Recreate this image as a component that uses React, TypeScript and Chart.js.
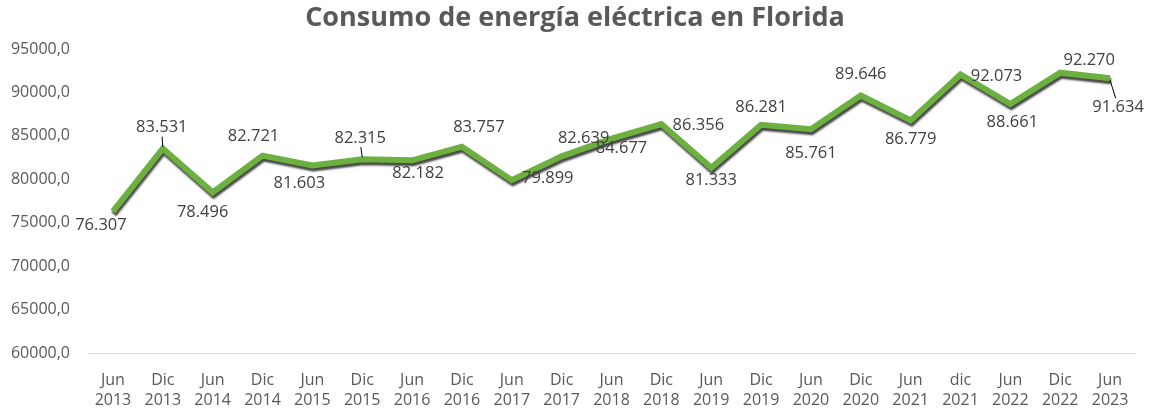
import React, { useEffect, useRef } from "react";
import { Chart, registerables } from "chart.js";

Chart.register(...registerables);

const title = "Consumo de energía eléctrica en Florida";
const months = ["Jun", "Dic", "Jun", "Dic", "Jun", "Dic", "Jun", "Dic", "Jun", "Dic", "Jun", "Dic", "Jun", "Dic", "Jun", "Dic", "Jun", "dic", "Jun", "Dic", "Jun"];
const years = ["2013", "2013", "2014", "2014", "2015", "2015", "2016", "2016", "2017", "2017", "2018", "2018", "2019", "2019", "2020", "2020", "2021", "2021", "2022", "2022", "2023"];
const consumo = [76307, 83531, 78496, 82721, 81603, 82315, 82182, 83757, 79899, 82639, 84677, 86356, 81333, 86281, 85761, 89646, 86779, 92073, 88661, 92270, 91634];
const yMin = 60000;
const yMax = 95000;
const yStep = 5000;

// label placement (style): offset of label centre from point, px
const labelDX = [-12, -1, -10, -9, -13, -2, 6, 17, 36, 22, 10, 37, 0, 0, 0, 0, 0, 36, 2, 29, 8];
const labelDY = [14, -21, 20, -19, 18, -21, 13, -19, -2, -18, 10, 1, 13, -17, 24, -21, 19, 2, 18, -12, 29];
const leader = [1, 5, 20];

const FONT = "'Open Sans', sans-serif";

function fmt(v: number) {
  return Math.floor(v / 1000) + "." + String(v % 1000).padStart(3, "0");
}

export default function App() {
  const ref = useRef<HTMLCanvasElement>(null);
  useEffect(() => {
    document.body.style.margin = "0";
    const labels = months.map((m, i) => [m, years[i]]);
    const shadowPlugin = {
      id: "shadow",
      beforeDatasetDraw(chart: any) {
        const ctx = chart.ctx;
        ctx.save();
        ctx.shadowColor = "rgba(40,40,40,0.85)";
        ctx.shadowOffsetX = 1;
        ctx.shadowOffsetY = 3;
        ctx.shadowBlur = 2;
      },
      afterDatasetDraw(chart: any) {
        chart.ctx.restore();
      },
    };
    const labelPlugin = {
      id: "labels",
      afterDatasetsDraw(chart: any) {
        const ctx = chart.ctx;
        const meta = chart.getDatasetMeta(0);
        ctx.save();
        ctx.font = "16.5px " + FONT;
        ctx.fillStyle = "#404040";
        ctx.textAlign = "center";
        ctx.textBaseline = "middle";
        meta.data.forEach((pt: any, i: number) => {
          const lx = pt.x + labelDX[i];
          const ly = pt.y + labelDY[i];
          if (leader.includes(i)) {
            ctx.strokeStyle = "#000";
            ctx.lineWidth = 1;
            ctx.beginPath();
            const sy = labelDY[i] < 0 ? ly + 9 : ly - 9;
            ctx.moveTo(lx - labelDX[i] * 0.3, sy);
            ctx.lineTo(pt.x, pt.y + (labelDY[i] < 0 ? -2 : 2));
            ctx.stroke();
          }
          ctx.fillText(fmt(consumo[i]), lx, ly);
        });
        ctx.restore();
      },
    };
    const titlePlugin = {
      id: "ttl",
      afterDraw(chart: any) {
        const ctx = chart.ctx;
        ctx.save();
        ctx.font = "bold 27px " + FONT;
        ctx.fillStyle = "#595959";
        ctx.textAlign = "center";
        ctx.textBaseline = "middle";
        ctx.fillText(title, 575, 18);
        ctx.restore();
      },
    };
    const chart = new Chart(ref.current!, {
      type: "line",
      data: {
        labels,
        datasets: [
          {
            data: consumo,
            borderColor: "#6CB13F",
            borderWidth: 6,
            borderJoinStyle: "miter",
            pointRadius: 0,
            tension: 0,
            fill: false,
          },
        ],
      },
      options: {
        animation: false,
        responsive: false,
        layout: { padding: { top: 49, right: 16, bottom: 0, left: 0 } },
        plugins: { legend: { display: false }, tooltip: { enabled: false }, title: { display: false } },
        scales: {
          x: {
            offset: true,
            grid: { display: false, drawTicks: false },
            border: { color: "#D9D9D9", width: 1 },
            afterFit(scale: any) {
              scale.height = 59;
            },
            ticks: { color: "#595959", font: { family: FONT, size: 16, lineHeight: 1.25 }, padding: 17, maxRotation: 0, autoSkip: false },
          },
          y: {
            min: yMin,
            max: yMax,
            grid: { display: false, drawTicks: false },
            border: { display: false },
            afterFit(scale: any) {
              scale.width = 88;
            },
            ticks: {
              stepSize: yStep,
              color: "#595959",
              font: { family: FONT, size: 16 },
              padding: 18,
              callback: (v: any) => Number(v).toFixed(1).replace(".", ","),
            },
          },
        },
      },
      plugins: [shadowPlugin, labelPlugin, titlePlugin],
    } as any);
    return () => chart.destroy();
  }, []);
  return <canvas ref={ref} width={1151} height={412} style={{ display: "block" }} />;
}
